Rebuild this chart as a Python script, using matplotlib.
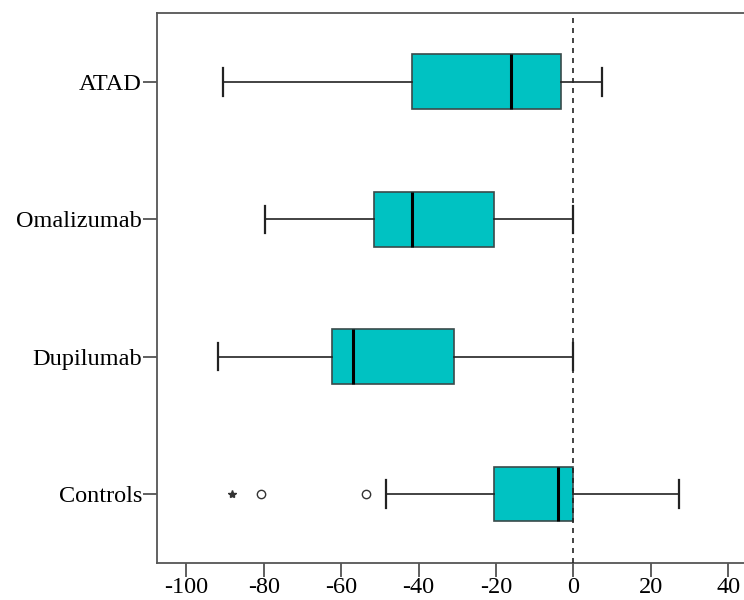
import matplotlib
matplotlib.use("Agg")
import matplotlib.pyplot as plt

# groups from bottom to top
groups = ["Controls", "Dupilumab", "Omalizumab", "ATAD"]
wlo = [-48.3, -91.9, -79.7, -90.6]
q1 = [-20.6, -62.4, -51.5, -41.8]
med = [-3.9, -56.9, -41.7, -16.2]
q3 = [0.0, -30.8, -20.4, -3.2]
whi = [27.3, 0.0, 0.0, 7.4]
# Controls outliers: circles and one extreme (star)
out_circle = [-80.6, -53.5]
out_star = [-88.1]

plt.rcParams["font.family"] = ["Liberation Serif", "DejaVu Serif"]
plt.rcParams["axes.unicode_minus"] = False
fig = plt.figure(figsize=(7.44, 6), dpi=100)
ax = fig.add_axes([0.2114, 0.0622, 0.7886, 0.9157])

stats = [dict(whislo=a, q1=b, med=c, q3=d, whishi=e, fliers=[])
         for a, b, c, d, e in zip(wlo, q1, med, q3, whi)]
pos = list(range(1, len(groups) + 1))
ax.bxp(stats, positions=pos, vert=False, widths=0.4, capwidths=0.2, patch_artist=True,
       showfliers=False,
       boxprops=dict(facecolor="#00c2c2", edgecolor="#3a4a4a", linewidth=1.2),
       medianprops=dict(color="black", linewidth=2.2),
       whiskerprops=dict(color="#222222", linewidth=1.2),
       capprops=dict(color="#222222", linewidth=1.6), zorder=2)
ax.plot(out_circle, [pos[0]] * len(out_circle), "o", mfc="white", mec="#333333", ms=6, mew=1)
ax.plot(out_star, [pos[0]] * len(out_star), "*", color="#333333", ms=6)

ax.axvline(0, color="#222222", ls=(0, (3, 3)), lw=1.2, zorder=3)

ax.set_xlim(-107.5, 44.1)
ax.set_ylim(0.5, 4.5)
ax.set_xticks([-100, -80, -60, -40, -20, 0, 20, 40])
ax.set_yticks(pos)
ax.set_yticklabels(groups)
ax.tick_params(labelsize=17.5, length=10, width=1.2, color="#444444")
ax.tick_params(axis="x", pad=0.5)
ax.tick_params(axis="y", pad=1)
for s in ["left", "bottom", "top"]:
    ax.spines[s].set_color("#555555")
    ax.spines[s].set_linewidth(1.3)
ax.spines["right"].set_visible(False)

fig.savefig("out.png", dpi=100)
